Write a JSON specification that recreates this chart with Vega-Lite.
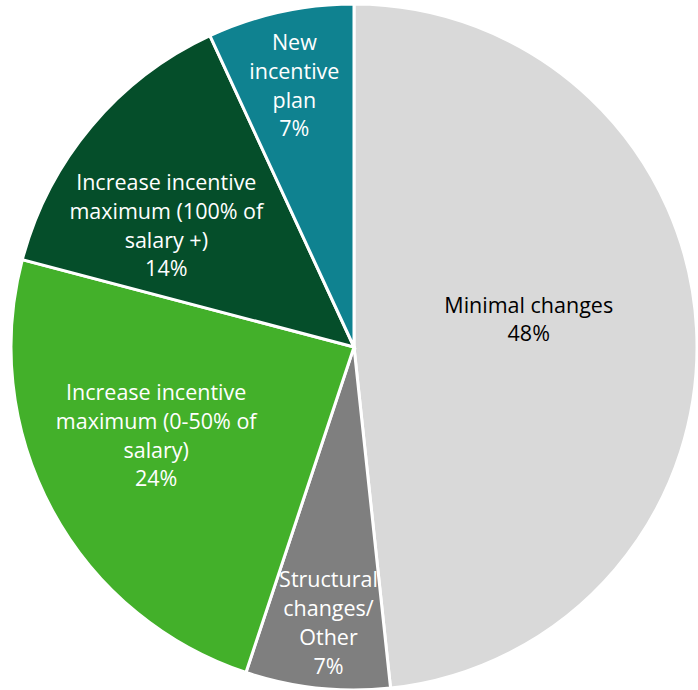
{
  "$schema": "https://vega.github.io/schema/vega-lite/v6.json",
  "width": 698,
  "height": 690,
  "autosize": "none",
  "padding": {"left": 5, "top": 2, "right": 0, "bottom": 0},
  "background": "white",
  "view": {"stroke": null},
  "data": {
    "values": [
      {"idx": 1, "category": "Minimal changes", "value": 48.3, "label": "Minimal changes\n48%"},
      {"idx": 2, "category": "Structural changes/ Other", "value": 6.8, "label": "Structural\nchanges/\nOther\n7%"},
      {"idx": 3, "category": "Increase incentive maximum (0-50% of salary)", "value": 24, "label": "Increase incentive\nmaximum (0-50% of\nsalary)\n24%"},
      {"idx": 4, "category": "Increase incentive maximum (100% of salary +)", "value": 14, "label": "Increase incentive\nmaximum (100% of\nsalary +)\n14%"},
      {"idx": 5, "category": "New incentive plan", "value": 6.9, "label": "New\nincentive\nplan\n7%"}
    ]
  },
  "encoding": {
    "theta": {"field": "value", "type": "quantitative", "stack": true},
    "order": {"field": "idx", "type": "quantitative"}
  },
  "layer": [
    {
      "mark": {"type": "arc", "outerRadius": 343, "stroke": "white", "strokeWidth": 3},
      "encoding": {
        "color": {
          "field": "category",
          "type": "nominal",
          "scale": {
            "domain": ["Minimal changes", "Structural changes/ Other", "Increase incentive maximum (0-50% of salary)", "Increase incentive maximum (100% of salary +)", "New incentive plan"],
            "range": ["#d9d9d9", "#7f7f7f", "#43b02a", "#054e2a", "#0f8290"]
          },
          "legend": null
        }
      }
    },
    {
      "mark": {"type": "text", "radius": 175, "dy": -31, "font": "Open Sans", "fontSize": 21.5, "lineHeight": 28.7, "lineBreak": "\n", "align": "center", "baseline": "middle", "fill": "#000000"},
      "encoding": {"text": {"condition": {"test": "datum.idx == 1", "field": "label"}, "value": ""}}
    },
    {
      "mark": {"type": "text", "radius": 277, "dx": 4, "dy": -41, "font": "Open Sans", "fontSize": 21.5, "lineHeight": 28.7, "lineBreak": "\n", "align": "center", "baseline": "middle", "fill": "#ffffff"},
      "encoding": {"text": {"condition": {"test": "datum.idx == 2", "field": "label"}, "value": ""}}
    },
    {
      "mark": {"type": "text", "radius": 217, "dx": -7, "dy": -56, "font": "Open Sans", "fontSize": 21.5, "lineHeight": 28.7, "lineBreak": "\n", "align": "center", "baseline": "middle", "fill": "#ffffff"},
      "encoding": {"text": {"condition": {"test": "datum.idx == 3", "field": "label"}, "value": ""}}
    },
    {
      "mark": {"type": "text", "radius": 224, "dx": -16, "dy": -19, "font": "Open Sans", "fontSize": 21.5, "lineHeight": 28.7, "lineBreak": "\n", "align": "center", "baseline": "middle", "fill": "#ffffff"},
      "encoding": {"text": {"condition": {"test": "datum.idx == 4", "field": "label"}, "value": ""}}
    },
    {
      "mark": {"type": "text", "radius": 268, "dx": -2, "dy": -41, "font": "Open Sans", "fontSize": 21.5, "lineHeight": 28.7, "lineBreak": "\n", "align": "center", "baseline": "middle", "fill": "#ffffff"},
      "encoding": {"text": {"condition": {"test": "datum.idx == 5", "field": "label"}, "value": ""}}
    }
  ]
}
